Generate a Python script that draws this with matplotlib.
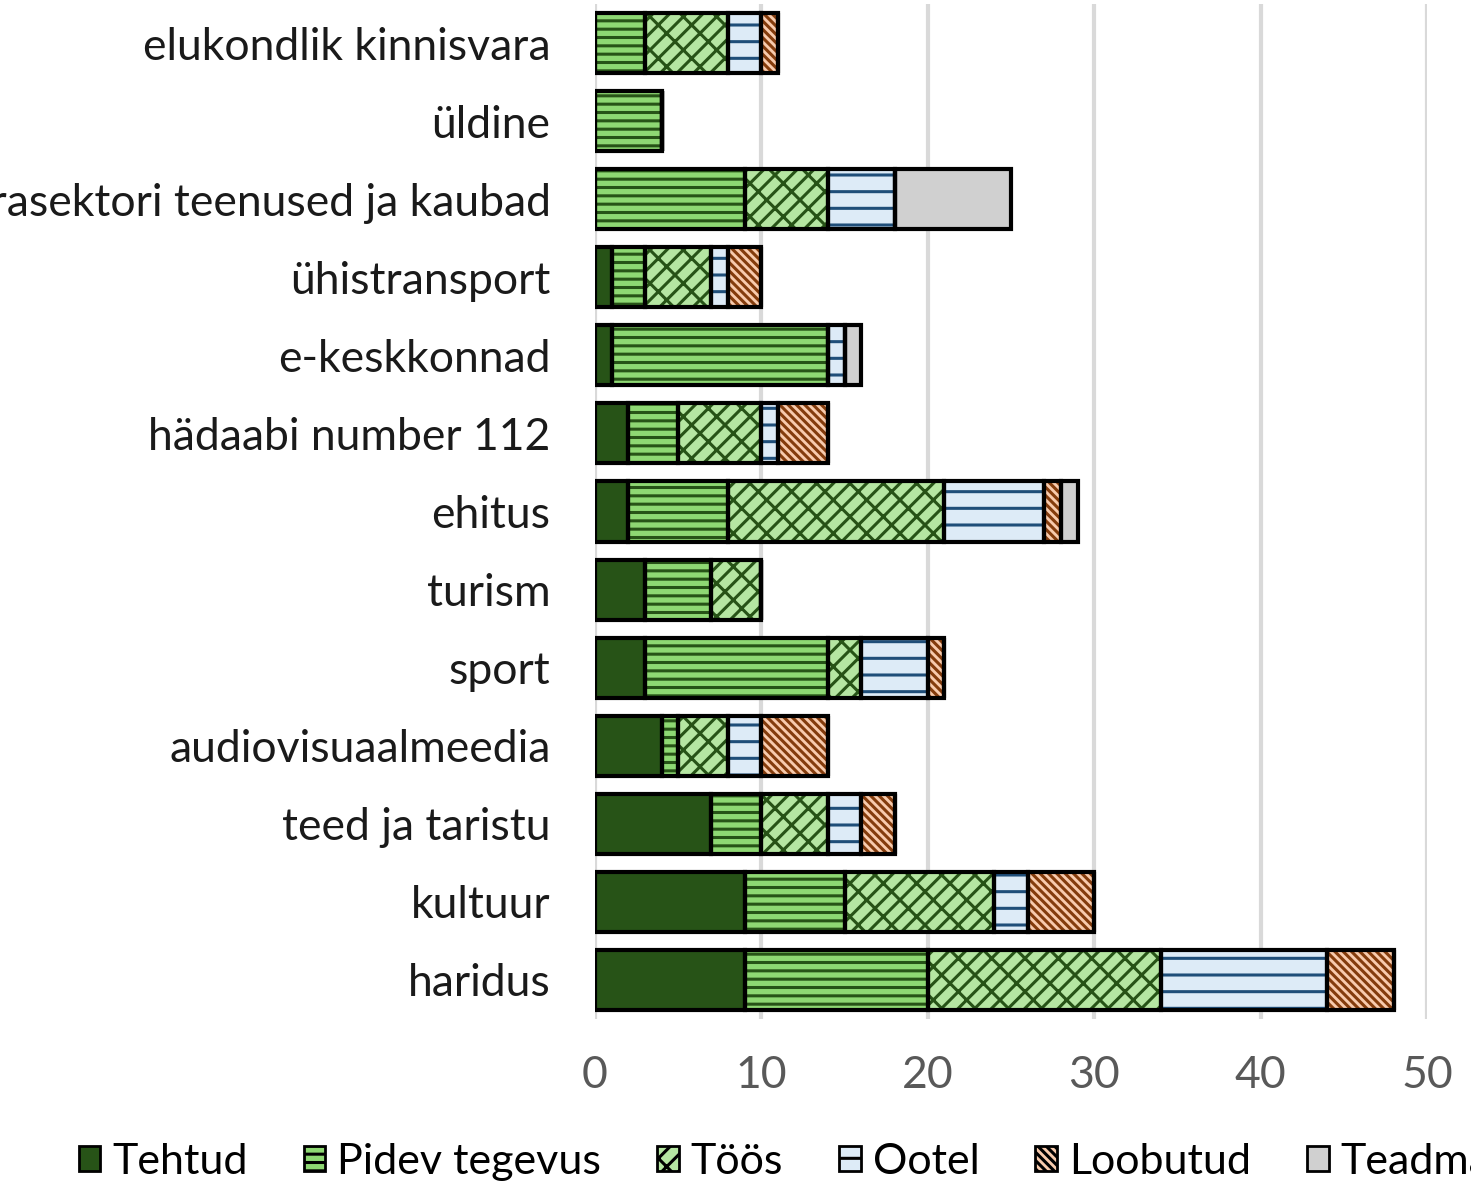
import matplotlib.pyplot as plt
import numpy as np

plt.rcParams['font.family'] = ['Lato', 'DejaVu Sans']
plt.rcParams['hatch.linewidth'] = 2.2

categories = ["haridus", "kultuur", "teed ja taristu", "audiovisuaalmeedia", "sport",
              "turism", "ehitus", "hädaabi number 112", "e-keskkonnad", "ühistransport",
              "erasektori teenused ja kaubad", "üldine", "elukondlik kinnisvara"]
tehtud   = [9, 9, 7, 4, 3, 3, 2, 2, 1, 1, 0, 0, 0]
pidev    = [11, 6, 3, 1, 11, 4, 6, 3, 13, 2, 9, 4, 3]
toos     = [14, 9, 4, 3, 2, 3, 13, 5, 0, 4, 5, 0, 5]
ootel    = [10, 2, 2, 2, 4, 0, 6, 1, 1, 1, 4, 0, 2]
loobutud = [4, 4, 2, 4, 1, 0, 1, 3, 0, 2, 0, 0, 1]
teadmata = [0, 0, 0, 0, 0, 0, 1, 0, 1, 0, 7, 0, 0]

# name, values, face, hatch, hatch colour
series = [
    ("Tehtud", tehtud, "#275317", None, "#275317"),
    ("Pidev tegevus", pidev, "#8ED873", "--", "#275317"),
    ("Töös", toos, "#B5E6A2", "//\\", "#275317"),
    ("Ootel", ootel, "#DDEBF7", "-", "#1F4E79"),
    ("Loobutud", loobutud, "#F8CBAD", "\\\\\\\\", "#843C0C"),
    ("Teadmata", teadmata, "#D0D0D0", None, "#D0D0D0"),
]

fig = plt.figure(figsize=(14.71, 11.84), dpi=100)
ax = fig.add_axes([595/1471, 1 - 1019/1184, (1427 - 595)/1471, 1015/1184])

y = np.arange(len(categories))
left = np.zeros(len(categories))
handles = []
for name, vals, fc, hatch, hc in series:
    vals = np.array(vals, dtype=float)
    ax.barh(y, vals, left=left, height=0.77, color=fc, hatch=hatch,
            edgecolor=hc, linewidth=0, zorder=2)
    ax.barh(y, vals, left=left, height=0.77, fill=False,
            edgecolor="black", linewidth=3, zorder=3)
    handles.append(plt.Rectangle((0, 0), 1, 1, facecolor=fc, hatch=hatch,
                                 edgecolor="black", linewidth=2))
    left += vals

ax.set_xlim(0, 50)
ax.set_ylim(-0.5, len(categories) - 0.5)
ax.set_yticks(y)
ax.set_yticklabels(categories, fontsize=32, color="#1a1a1a")
ax.set_xticks([0, 10, 20, 30, 40, 50])
ax.tick_params(axis='x', labelsize=32, labelcolor="#595959", length=0, pad=26)
ax.tick_params(axis='y', length=0, pad=32)
ax.grid(axis='x', color="#D9D9D9", linewidth=3, zorder=0)
ax.set_axisbelow(True)
for s in ax.spines.values():
    s.set_visible(False)

fig.legend(handles, [s[0] for s in series], loc="center left",
           bbox_to_anchor=(40/1471, 1 - 1162/1184), ncol=6, frameon=False,
           fontsize=31, handlelength=0.5, handleheight=0.5, handletextpad=0.28,
           columnspacing=1.3)

fig.savefig("out.png", dpi=100)
